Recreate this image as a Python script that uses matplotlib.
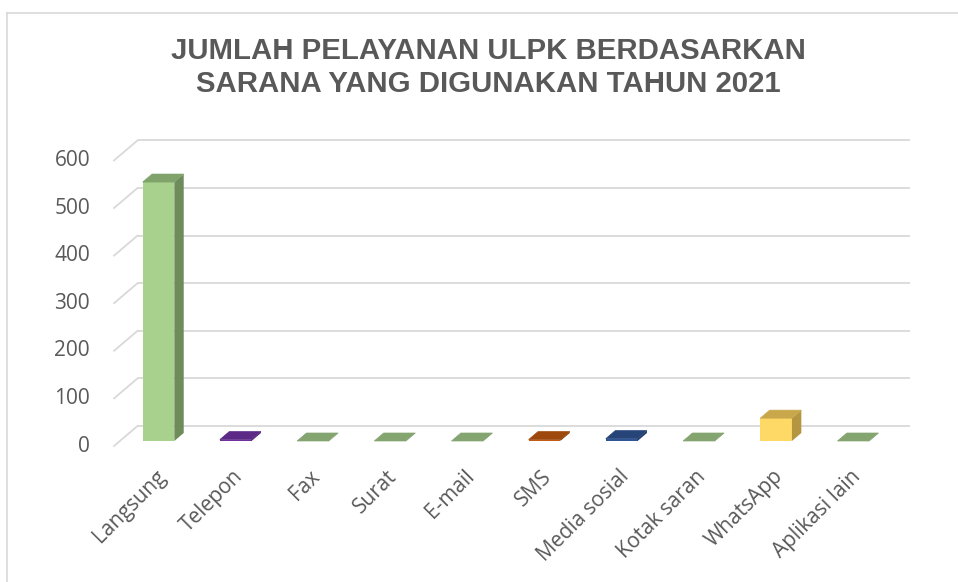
import matplotlib.pyplot as plt
from matplotlib.patches import Polygon

categories = ["Langsung", "Telepon", "Fax", "Surat", "E-mail", "SMS",
              "Media sosial", "Kotak saran", "WhatsApp", "Aplikasi lain"]
values = [544, 3, 0, 0, 0, 3, 5, 0, 48, 0]
front_colors = ["#A9D18E", "#7030A0", "#84A470", "#84A470", "#84A470",
                "#C55A11", "#2F5597", "#84A470", "#FFD966", "#84A470"]
side_colors = ["#6E8B5B", "#4E1F70", "#6E8B5B", "#6E8B5B", "#6E8B5B",
               "#8A3F0C", "#1F3B69", "#6E8B5B", "#B3963F", "#6E8B5B"]
top_colors = ["#7FA36A", "#5C2A86", "#84A470", "#84A470", "#84A470",
              "#9E480E", "#264478", "#84A470", "#C9A84C", "#84A470"]
yticks = [0, 100, 200, 300, 400, 500, 600]
title = "JUMLAH PELAYANAN ULPK BERDASARKAN\nSARANA YANG DIGUNAKAN TAHUN 2021"

W, H = 958, 582
PX, PY = 77.2, 0.476          # pixels per category / per value unit
X0, Y0 = 158.5, 441           # pixel of category 0, value 0 (bar front plane)

fig = plt.figure(figsize=(W / 100, H / 100), dpi=100)
ax = fig.add_axes([0, 0, 1, 1])
ax.set_xlim(-X0 / PX, (W - X0) / PX)
ax.set_ylim(-(H - Y0) / PY, Y0 / PY)
ax.axis("off")

# one unit of depth expressed in data units
DX, DY = 23.5 / PX, 20 / PY
back, front = 0.75, -0.25
n = len(categories)
grid_c = "#D9D9D9"
text_c = "#595959"

# back wall gridlines + side diagonals
for v in yticks:
    ax.plot([-0.5 + back * DX, n - 0.5 + back * DX], [v + back * DY] * 2,
            color=grid_c, lw=1.3, zorder=1, solid_capstyle="butt")
    ax.plot([-0.5 + front * DX, -0.5 + back * DX],
            [v + front * DY, v + back * DY], color=grid_c, lw=1.3, zorder=1)
    ax.text((90 - X0) / PX, v + front * DY, str(v), ha="right", va="center",
            fontsize=15, color=text_c, family="Open Sans")

# bars
hw = 0.205
bd = 0.4
for i, (v, fc, sc, tc) in enumerate(zip(values, front_colors, side_colors, top_colors)):
    ax.bar(i, v, width=2 * hw, color=fc, zorder=3, linewidth=0)
    ax.add_patch(Polygon([(i + hw, 0), (i + hw + bd * DX, bd * DY),
                          (i + hw + bd * DX, v + bd * DY), (i + hw, v)],
                         closed=True, color=sc, lw=0, zorder=3))
    ax.add_patch(Polygon([(i - hw, v), (i + hw, v),
                          (i + hw + bd * DX, v + bd * DY),
                          (i - hw + bd * DX, v + bd * DY)],
                         closed=True, color=tc, lw=0.5, zorder=4))

# category labels
for i, c in enumerate(categories):
    ax.text(i + 0.05, -68, c, rotation=45, rotation_mode="anchor",
            ha="right", va="center", fontsize=15, color=text_c, family="Open Sans")

fig.text(488 / W, 1 - 67.5 / H, title, ha="center", va="center", fontsize=21.2,
         fontweight="bold", color=text_c, family="Liberation Sans", linespacing=1.22)

# chart border
fig.add_artist(plt.Line2D([7 / W, 7 / W], [0, 1 - 13 / H], color=grid_c, lw=1.2))
fig.add_artist(plt.Line2D([7 / W, 1], [1 - 13 / H, 1 - 13 / H], color=grid_c, lw=1.2))

fig.savefig("out.png", dpi=100)
